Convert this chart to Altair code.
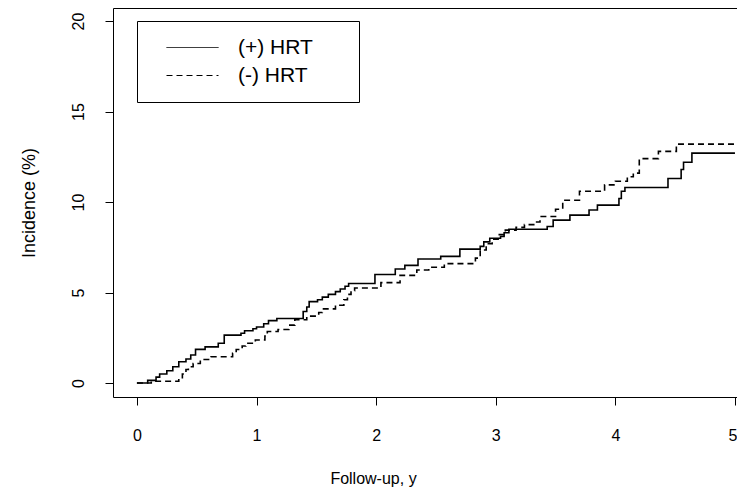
import altair as alt
import pandas as pd

groups = ["(+) HRT", "(-) HRT"]

# (+) HRT cumulative incidence steps (years, %)
plus_t = [0.00, 0.09, 0.16, 0.19, 0.25, 0.30, 0.35, 0.41, 0.45, 0.49, 0.57, 0.68, 0.73,
          0.87, 0.90, 0.97, 1.00, 1.06, 1.10, 1.17, 1.39, 1.42, 1.44, 1.51, 1.55, 1.60,
          1.66, 1.70, 1.74, 1.77, 1.99, 2.16, 2.24, 2.35, 2.54, 2.70, 2.87, 2.90, 2.95,
          3.04, 3.07, 3.11, 3.43, 3.48, 3.62, 3.78, 3.85, 4.03, 4.05, 4.08, 4.44, 4.55,
          4.57, 4.64, 5.00]
plus_v = [0.00, 0.15, 0.33, 0.50, 0.68, 0.90, 1.18, 1.33, 1.55, 1.86, 2.00, 2.20, 2.65,
          2.75, 2.89, 3.00, 3.10, 3.28, 3.45, 3.57, 3.95, 4.20, 4.50, 4.60, 4.75, 4.90,
          5.05, 5.20, 5.35, 5.50, 6.00, 6.30, 6.50, 6.85, 7.00, 7.40, 7.55, 7.80, 8.00,
          8.10, 8.30, 8.50, 8.65, 9.00, 9.28, 9.56, 9.83, 10.20, 10.60, 10.80, 11.30, 11.80,
          12.20, 12.70, 12.70]

# (-) HRT cumulative incidence steps (years, %)
minus_t = [0.00, 0.12, 0.35, 0.38, 0.41, 0.43, 0.47, 0.53, 0.62, 0.80, 0.83, 0.88, 0.91,
           0.99, 1.07, 1.09, 1.18, 1.27, 1.32, 1.42, 1.52, 1.55, 1.66, 1.73, 1.76, 1.79,
           1.82, 2.04, 2.20, 2.34, 2.44, 2.57, 2.83, 2.87, 2.92, 2.97, 3.02, 3.08, 3.17,
           3.24, 3.33, 3.37, 3.50, 3.56, 3.70, 3.91, 4.00, 4.10, 4.15, 4.20, 4.36, 4.51,
           5.00]
minus_v = [0.00, 0.10, 0.25, 0.50, 0.75, 0.90, 1.08, 1.30, 1.45, 1.65, 1.85, 2.05, 2.20,
           2.38, 2.60, 2.85, 2.96, 3.20, 3.50, 3.70, 3.90, 4.10, 4.30, 4.60, 4.90, 5.10,
           5.25, 5.55, 5.95, 6.25, 6.40, 6.60, 6.90, 7.35, 7.70, 7.95, 8.20, 8.45, 8.60,
           8.75, 8.90, 9.20, 9.60, 10.10, 10.60, 10.95, 11.15, 11.40, 11.60, 12.40, 12.80, 13.20,
           13.20]

x_ticks = [0, 1, 2, 3, 4, 5]
y_ticks = [0, 5, 10, 15, 20]

df = pd.concat([
    pd.DataFrame({"t": plus_t, "v": plus_v, "g": groups[0]}),
    pd.DataFrame({"t": minus_t, "v": minus_v, "g": groups[1]}),
], ignore_index=True)

FONT = "Liberation Sans"
xscale = alt.Scale(domain=[-0.2, 5.017], nice=False, zero=False)
yscale = alt.Scale(domain=[-0.77, 20.72], nice=False, zero=False)

pad = "\u00a0" * 5 + "\u200b"

lines = alt.Chart(df).mark_line(
    interpolate="step-after", color="black", strokeWidth=1.6, clip=True
).encode(
    x=alt.X("t:Q", scale=xscale, axis=alt.Axis(
        values=x_ticks, title="Follow-up, y", orient="bottom",
        tickSize=8, labelPadding=22, titlePadding=27, titleX=260, titleAlign="center",
        labelFontSize=16, titleFontSize=16, labelFlush=False,
        labelOffset=alt.condition("datum.value == 5", alt.value(-2.5), alt.value(0)))),
    y=alt.Y("v:Q", scale=yscale, axis=alt.Axis(
        values=y_ticks, title="Incidence (%)", orient="left",
        tickSize=8, labelAngle=270, labelAlign="center", labelBaseline="alphabetic",
        labelPadding=22, titlePadding=32, labelFontSize=16, titleFontSize=18,
        labelFlush=False)),
    strokeDash=alt.StrokeDash("g:N", scale=alt.Scale(domain=groups, range=[[1, 0], [6, 4]]),
        legend=alt.Legend(
            title=None, orient="none", legendX=24, legendY=13,
            strokeColor="black", fillColor="white", padding=16,
            symbolType="M-4,0H4", symbolSize=169, symbolStrokeWidth=1,
            symbolStrokeColor="black", symbolFillColor="transparent",
            symbolOffset=29, labelOffset=35, rowPadding=6,
            labelFontSize=21, labelFont=FONT, labelColor="black",
            labelExpr="datum.label + '" + pad + "'")),
)

top_axis = alt.Chart(df).mark_line(opacity=0).encode(
    x=alt.X("t:Q", scale=xscale, axis=alt.Axis(
        orient="top", labels=False, ticks=False, title=None, domain=True)),
    y=alt.Y("v:Q", scale=yscale, axis=None),
)

chart = alt.layer(lines, top_axis).resolve_axis(x="independent", y="independent").properties(
    width=624, height=389,
    padding={"left": 105, "top": 0, "right": 0, "bottom": 92},
    autosize=alt.AutoSizeParams(type="none"),
    background="white",
).configure_view(stroke=None).configure_axis(
    grid=False, labelFont=FONT, titleFont=FONT, labelColor="black", titleColor="black",
    titleFontWeight="normal", domainColor="black", tickColor="black", domainWidth=1,
    tickWidth=1,
)

chart.save("out.html", embed_options={"renderer": "svg", "actions": False})
